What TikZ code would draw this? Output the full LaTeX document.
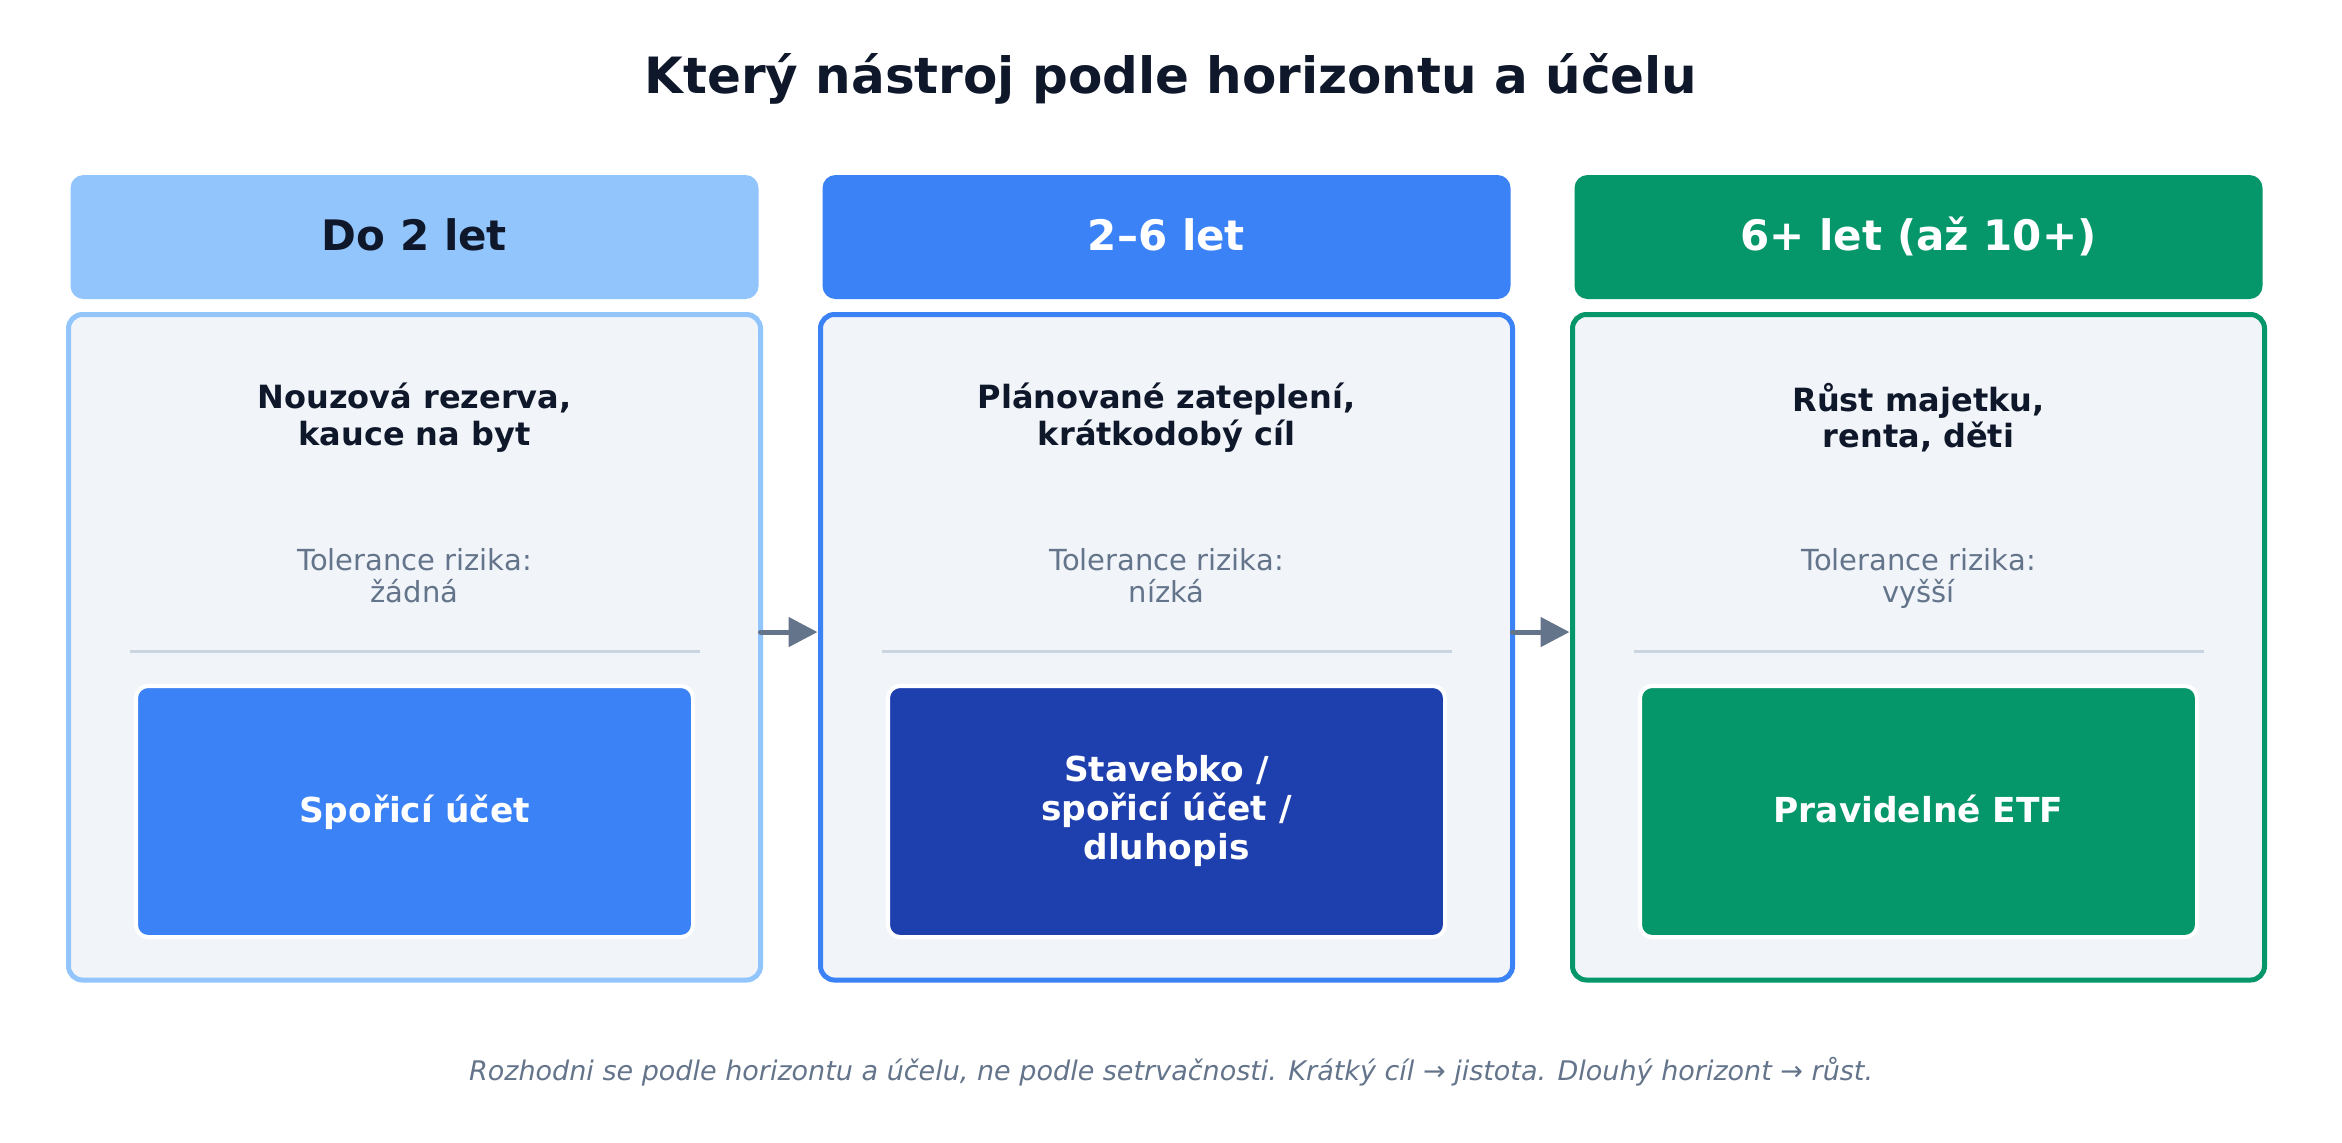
\documentclass[tikz,border=0pt]{standalone}
\usepackage{fontspec}
\setmainfont{DejaVu Sans}
\usetikzlibrary{arrows.meta,positioning}
\definecolor{ink}{HTML}{0F172A}
\definecolor{muted}{HTML}{64748B}
\definecolor{panel}{HTML}{F1F5F9}
\definecolor{rule}{HTML}{CBD5E1}
\definecolor{skyA}{HTML}{93C5FD}
\definecolor{blueB}{HTML}{3B82F6}
\definecolor{navyB}{HTML}{1E40AF}
\definecolor{greenC}{HTML}{059669}
\begin{document}
\begin{tikzpicture}[x=1pt,y=-1pt,
headbox/.style={rectangle, rounded corners=6.5pt, minimum width=344pt, minimum height=62pt, inner sep=0pt, outer sep=0pt, text height=13.5pt, text depth=0pt, text=white, font=\fontsize{21}{25}\selectfont\bfseries},
bodybox/.style={rectangle, rounded corners=7pt, line width=2.5pt, fill=panel, minimum width=346pt, minimum height=332.75pt, inner sep=0pt, outer sep=0pt},
purpose/.style={align=center, text=ink, inner sep=0pt, outer sep=0pt, font=\fontsize{16}{18.2}\selectfont\bfseries},
risk/.style={align=center, text=muted, inner sep=0pt, outer sep=0pt, font=\fontsize{14.5}{16}\selectfont},
sepline/.style={fill=rule, minimum width=285pt, minimum height=1.5pt, inner sep=0pt, outer sep=0pt},
toolbox/.style={rectangle, rounded corners=6pt, draw=white, line width=2pt, minimum width=278.5pt, minimum height=125.5pt, inner sep=0pt, outer sep=0pt, align=center, text height=10.5pt, text depth=0pt, text=white, font=\fontsize{17.2}{19.5}\selectfont\bfseries},
flow/.style={-{Triangle[length=14.5pt,width=14.5pt]}, line width=2.5pt, line cap=round, shorten >=1.5pt, draw=muted, fill=muted},
]
\path[use as bounding box, fill=white] (0,0) rectangle (1171,571);

\node[anchor=base, text=ink, font=\fontsize{25}{30}\selectfont\bfseries] (title) at (585.5,46.5) {Který nástroj podle horizontu a účelu};

\node[headbox, fill=skyA, text=ink] (h1) at (207.25,118.5) {Do 2 let};
\node[headbox, fill=blueB, right=32pt of h1] (h2) {2–6 let};
\node[headbox, fill=greenC, right=32pt of h2] (h3) {6+ let (až 10+)};

\node[bodybox, draw=skyA, below=7.75pt of h1] (b1) {};
\node[bodybox, draw=blueB, below=7.75pt of h2] (b2) {};
\node[bodybox, draw=greenC, below=7.75pt of h3] (b3) {};

\node[purpose, below=34.25pt of b1.north] (p1) {Nouzová rezerva,\\kauce na byt};
\node[purpose, below=34.25pt of b2.north] (p2) {Plánované zateplení,\\krátkodobý cíl};
\node[purpose, below=34.25pt of b3.north] (p3) {Růst majetku,\\renta, děti};

\node[risk, below=117pt of b1.north] (r1) {Tolerance rizika:\\žádná};
\node[risk, below=117pt of b2.north] (r2) {Tolerance rizika:\\nízká};
\node[risk, below=117pt of b3.north] (r3) {Tolerance rizika:\\vyšší};

\node[sepline, below=167.5pt of b1.north] (s1) {};
\node[sepline, below=167.5pt of b2.north] (s2) {};
\node[sepline, below=167.5pt of b3.north] (s3) {};

\node[toolbox, fill=blueB, below=16.75pt of s1] (t1) {Spořicí účet};
\node[toolbox, fill=navyB, text height=47.5pt, below=16.75pt of s2] (t2) {Stavebko /\\spořicí účet /\\dluhopis};
\node[toolbox, fill=greenC, below=16.75pt of s3] (t3) {Pravidelné ETF};

\draw[flow] ([yshift=7.6pt]b1.east) -- ([yshift=7.6pt]b2.west);
\draw[flow] ([yshift=7.6pt]b2.east) -- ([yshift=7.6pt]b3.west);

\node[anchor=base, text=muted, font=\fontsize{13.5}{16}\selectfont\itshape] (note) at (585.5,540) {Rozhodni se podle horizontu a účelu, ne podle setrvačnosti. Krátký cíl → jistota. Dlouhý horizont → růst.};
\end{tikzpicture}
\end{document}
